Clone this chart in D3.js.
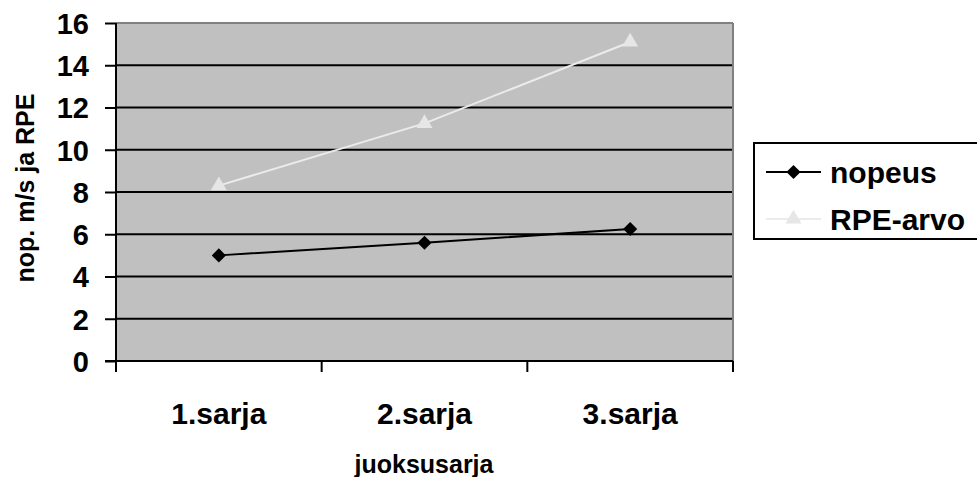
<!DOCTYPE html>
<html><head><meta charset="utf-8">
<script src="https://cdn.jsdelivr.net/npm/d3@7"></script>
<style>body{margin:0;background:#fff}svg{display:block}text{font-family:"Liberation Sans",Arial,sans-serif;font-weight:bold}</style>
</head><body>
<script>
const categories = ["1.sarja","2.sarja","3.sarja"];
const nopeus = [5.0, 5.6, 6.25];
const rpe = [8.3, 11.25, 15.1];
const yTicks = [0,2,4,6,8,10,12,14,16];
const seriesNames = ["nopeus","RPE-arvo"];

const W=977,H=477;
const svg=d3.select("body").append("svg").attr("width",W).attr("height",H);
const L=116,R=733,T=23,B=361;
const x=d3.scaleBand().domain(categories).range([L,R]);
const y=d3.scaleLinear().domain([0,16]).range([B,T]);

svg.append("rect").attr("x",L).attr("y",T).attr("width",R-L).attr("height",B-T).attr("fill","#c0c0c0");
// gridlines
svg.append("g").selectAll("line").data(yTicks.filter(d=>d>0)).join("line")
 .attr("x1",L).attr("x2",R).attr("y1",d=>y(d)).attr("y2",d=>y(d)).attr("stroke","#000").attr("stroke-width",2);
// border top/right
svg.append("line").attr("x1",L).attr("x2",R).attr("y1",T).attr("y2",T).attr("stroke","#808080").attr("stroke-width",2);
svg.append("line").attr("x1",R).attr("x2",R).attr("y1",T).attr("y2",B).attr("stroke","#808080").attr("stroke-width",2);

// y axis
const ya=svg.append("g").attr("transform",`translate(${L},0)`).call(d3.axisLeft(y).tickValues(yTicks).tickSize(11).tickPadding(16));
ya.select(".domain").attr("stroke","#000").attr("stroke-width",2).attr("d",`M0,${T}V${B+10}`);
ya.selectAll(".tick line").attr("stroke","#000").attr("stroke-width",2);
ya.selectAll(".tick text").attr("font-size",29).attr("fill","#000").attr("dy","0.36em");

// x axis
const xa=svg.append("g").attr("transform",`translate(0,${B})`).call(d3.axisBottom(x).tickSize(0).tickPadding(42));
xa.select(".domain").remove();
svg.append("line").attr("x1",L-11).attr("x2",R).attr("y1",B).attr("y2",B).attr("stroke","#000").attr("stroke-width",2);
const edges=[L,...categories.map(c=>x(c)+x.bandwidth())];
svg.append("g").selectAll("line").data(edges).join("line")
 .attr("x1",d=>d).attr("x2",d=>d).attr("y1",B).attr("y2",B+11).attr("stroke","#000").attr("stroke-width",2);
xa.selectAll(".tick text").attr("font-size",30).attr("fill","#000");

// axis titles
svg.append("text").attr("x",424).attr("y",473).attr("text-anchor","middle").attr("font-size",25).text("juoksusarja");
svg.append("text").attr("transform","translate(34,188) rotate(-90)").attr("text-anchor","middle").attr("font-size",25).text("nop. m/s ja RPE");

const cx=c=>x(c)+x.bandwidth()/2;
const line=d3.line().x((d,i)=>cx(categories[i])).y(d=>y(d));
svg.append("path").datum(rpe).attr("d",line).attr("fill","none").attr("stroke","#ebebeb").attr("stroke-width",2);
svg.append("path").datum(nopeus).attr("d",line).attr("fill","none").attr("stroke","#000").attr("stroke-width",2);
const tri=d3.symbol().type(d3.symbolTriangle).size(110);
const dia=d3.symbol().type(d3.symbolSquare).size(100);
svg.append("g").selectAll("path").data(rpe).join("path").attr("d",tri)
 .attr("transform",(d,i)=>`translate(${cx(categories[i])},${y(d)})`).attr("fill","#e6e6e6");
svg.append("g").selectAll("path").data(nopeus).join("path").attr("d",dia)
 .attr("transform",(d,i)=>`translate(${cx(categories[i])},${y(d)}) rotate(45)`).attr("fill","#000");

// legend
const lg=svg.append("g");
lg.append("rect").attr("x",754).attr("y",143).attr("width",240).attr("height",96).attr("fill","#fff").attr("stroke","#000").attr("stroke-width",2);
const ly=[172,219];
seriesNames.forEach((n,i)=>{
  lg.append("line").attr("x1",766).attr("x2",821).attr("y1",ly[i]).attr("y2",ly[i]).attr("stroke",i?"#ebebeb":"#000").attr("stroke-width",2);
  lg.append("path").attr("d",i?tri:dia).attr("transform",`translate(793.5,${ly[i]})${i?"":" rotate(45)"}`).attr("fill",i?"#e6e6e6":"#000");
  lg.append("text").attr("x",830).attr("y",ly[i]).attr("dy","0.36em").attr("font-size",30).text(n);
});
</script>
</body></html>
